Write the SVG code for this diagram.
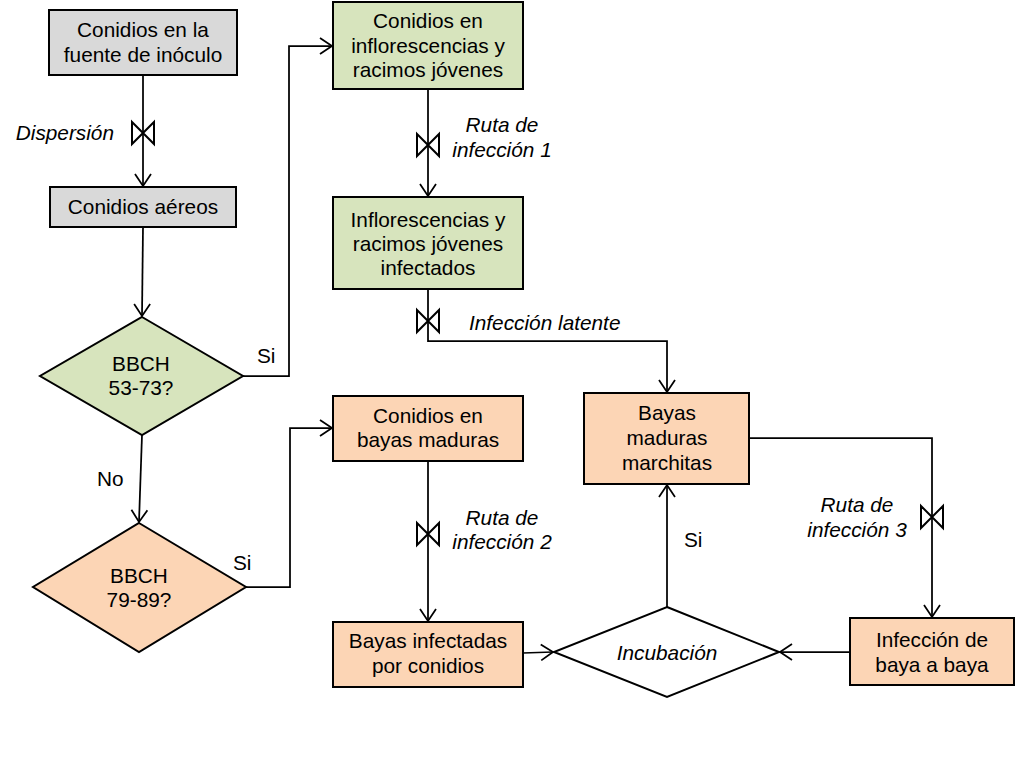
<svg xmlns="http://www.w3.org/2000/svg" width="1015" height="762" viewBox="0 0 1015 762">
<style>
.box{stroke:#000;stroke-width:2}
.gray{fill:#D9D9D9}
.green{fill:#D7E4BD}
.orange{fill:#FCD5B5}
.white{fill:#FFFFFF}
text{font-family:"Liberation Sans",Arial,sans-serif;font-size:20.8px;fill:#000}
.c{text-anchor:middle}
.it{font-style:italic}
.conn{fill:none;stroke:#000;stroke-width:1.75}
.valve{fill:#FFF;stroke:#000;stroke-width:2}
</style>
<defs>
<marker id="arr" markerUnits="userSpaceOnUse" markerWidth="16" markerHeight="20" refX="13" refY="9" orient="auto" viewBox="0 0 16 20">
<path d="M1,1 L13,9 L1,17" fill="none" stroke="#000" stroke-width="1.75"/>
</marker>
<path id="bow" class="valve" d="M-11,-11 L11,11 L11,-11 L-11,11 Z"/>
</defs>

<g id="connectors">
<path class="conn" d="M143,75 L143,186" marker-end="url(#arr)"/>
<use href="#bow" x="143" y="133"/>
<path class="conn" d="M143,227 L142,316" marker-end="url(#arr)"/>
<path class="conn" d="M243,376 L289,376 L289,46 L332,46" marker-end="url(#arr)"/>
<path class="conn" d="M142,435 L139,522" marker-end="url(#arr)"/>
<path class="conn" d="M246,587 L290,587 L290,428 L332,428" marker-end="url(#arr)"/>
<path class="conn" d="M428,89 L428,196" marker-end="url(#arr)"/>
<use href="#bow" x="428" y="145"/>
<path class="conn" d="M428,289 L428,341 L667,341 L667,392" marker-end="url(#arr)"/>
<use href="#bow" x="428" y="321"/>
<path class="conn" d="M428,461 L428,621" marker-end="url(#arr)"/>
<use href="#bow" x="428" y="534"/>
<path class="conn" d="M523,653 L553,652" marker-end="url(#arr)"/>
<path class="conn" d="M667,607 L667,485" marker-end="url(#arr)"/>
<path class="conn" d="M749,438 L932,438 L932,617" marker-end="url(#arr)"/>
<use href="#bow" x="932" y="517"/>
<path class="conn" d="M850,652 L780,652" marker-end="url(#arr)"/>
<text class="it" x="114" y="140" text-anchor="end">Dispersión</text>
<text x="257" y="363">Si</text>
<text x="97" y="486">No</text>
<text x="233" y="570">Si</text>
<text class="it c" x="502" y="132">Ruta de</text>
<text class="it c" x="502" y="157">infección 1</text>
<text class="it" x="469" y="330">Infección latente</text>
<text class="it c" x="502" y="525">Ruta de</text>
<text class="it c" x="502" y="549">infección 2</text>
<text x="684" y="547">Si</text>
<text class="it c" x="857" y="512">Ruta de</text>
<text class="it c" x="857" y="537">infección 3</text>
</g>

<g id="n1">
<rect class="box gray" x="49" y="10" width="188" height="65"/>
<text class="c" x="143" y="37">Conidios en la</text>
<text class="c" x="143" y="62">fuente de inóculo</text>
</g>
<g id="n2">
<rect class="box gray" x="50" y="187" width="186" height="40"/>
<text class="c" x="143" y="214">Conidios aéreos</text>
</g>
<g id="d1">
<polygon class="box green" points="142,317 243,376 142,435 40,376"/>
<text class="c" x="141" y="371">BBCH</text>
<text class="c" x="141" y="395">53-73?</text>
</g>
<g id="d2">
<polygon class="box orange" points="139,523 246,587 139,652 33,587"/>
<text class="c" x="139" y="583">BBCH</text>
<text class="c" x="139" y="607">79-89?</text>
</g>
<g id="n3">
<rect class="box green" x="333" y="2" width="190" height="87"/>
<text class="c" x="428" y="28">Conidios en</text>
<text class="c" x="428" y="53">inflorescencias y</text>
<text class="c" x="428" y="77">racimos jóvenes</text>
</g>
<g id="n4">
<rect class="box green" x="333" y="197" width="190" height="92"/>
<text class="c" x="428" y="227">Inflorescencias y</text>
<text class="c" x="428" y="251">racimos jóvenes</text>
<text class="c" x="428" y="275">infectados</text>
</g>
<g id="n5">
<rect class="box orange" x="333" y="396" width="190" height="65"/>
<text class="c" x="428" y="423">Conidios en</text>
<text class="c" x="428" y="447">bayas maduras</text>
</g>
<g id="n6">
<rect class="box orange" x="333" y="622" width="190" height="65"/>
<text class="c" x="428" y="648">Bayas infectadas</text>
<text class="c" x="428" y="673">por conidios</text>
</g>
<g id="n7">
<polygon class="box white" points="667,607 779,652 667,697 554,652"/>
<text class="c it" x="667" y="660">Incubación</text>
</g>
<g id="n8">
<rect class="box orange" x="584" y="393" width="165" height="91"/>
<text class="c" x="667" y="420">Bayas</text>
<text class="c" x="667" y="445">maduras</text>
<text class="c" x="667" y="470">marchitas</text>
</g>
<g id="n9">
<rect class="box orange" x="850" y="618" width="164" height="67"/>
<text class="c" x="932" y="647">Infección de</text>
<text class="c" x="932" y="672">baya a baya</text>
</g>
</svg>
